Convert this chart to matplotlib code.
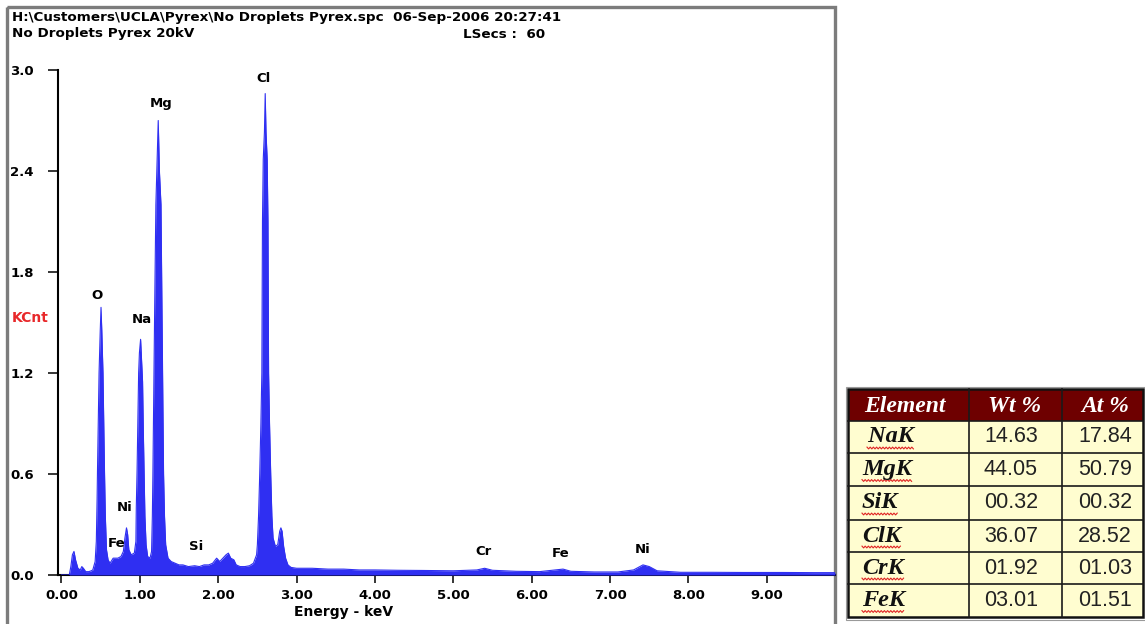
import numpy as np
import matplotlib
matplotlib.use("Agg")
import matplotlib.pyplot as plt
from matplotlib.patches import Rectangle

# EDS spectrum traced as (energy keV, counts KCnt) points
energy = [0.00, 0.10, 0.12, 0.14, 0.16, 0.18, 0.21, 0.24, 0.26, 0.28, 0.31, 0.35, 0.38,
          0.40, 0.43, 0.445, 0.455, 0.46, 0.47, 0.48, 0.495, 0.505, 0.515, 0.53, 0.54, 0.55,
          0.56, 0.575, 0.595, 0.62, 0.66, 0.69, 0.72, 0.76, 0.79, 0.81, 0.83, 0.845, 0.86,
          0.89, 0.93, 0.95, 0.955, 0.965, 0.975, 0.985, 0.995, 1.01, 1.02, 1.035, 1.045,
          1.055, 1.065, 1.08, 1.10, 1.13, 1.15, 1.16, 1.167, 1.18, 1.19, 1.205, 1.22, 1.235,
          1.25, 1.27, 1.28, 1.29, 1.303, 1.315, 1.33, 1.36, 1.40, 1.45, 1.50, 1.55, 1.62,
          1.70, 1.76, 1.82, 1.88, 1.93, 1.98, 2.02, 2.06, 2.10, 2.13, 2.16, 2.20, 2.23, 2.28,
          2.34, 2.40, 2.45, 2.49, 2.50, 2.515, 2.53, 2.545, 2.557, 2.565, 2.575, 2.59, 2.60,
          2.61, 2.625, 2.635, 2.643, 2.655, 2.67, 2.685, 2.70, 2.73, 2.76, 2.785, 2.80, 2.815,
          2.835, 2.86, 2.89, 2.93, 3.0, 3.2, 3.4, 3.6, 3.8, 4.0, 4.3, 4.6, 5.0, 5.3, 5.4, 5.5,
          5.8, 6.1, 6.3, 6.4, 6.5, 6.8, 7.1, 7.3, 7.42, 7.5, 7.6, 7.9, 8.3, 8.7, 9.2, 9.6, 9.87]
kcnt = [0.0, 0.0, 0.05, 0.12, 0.14, 0.09, 0.04, 0.03, 0.05, 0.04, 0.02, 0.02, 0.025,
        0.03, 0.08, 0.20, 0.45, 0.62, 0.90, 1.20, 1.45, 1.59, 1.45, 1.20, 0.90, 0.60,
        0.35, 0.15, 0.09, 0.07, 0.10, 0.10, 0.10, 0.11, 0.14, 0.22, 0.28, 0.24, 0.15,
        0.12, 0.13, 0.20, 0.40, 0.62, 0.90, 1.20, 1.32, 1.40, 1.30, 1.15, 0.85,
        0.60, 0.35, 0.18, 0.11, 0.10, 0.14, 0.35, 0.60, 1.20, 1.60, 2.20, 2.45, 2.70,
        2.40, 2.20, 1.70, 1.20, 0.60, 0.35, 0.18, 0.10, 0.08, 0.07, 0.06, 0.06, 0.05,
        0.055, 0.05, 0.06, 0.06, 0.07, 0.10, 0.08, 0.10, 0.12, 0.13, 0.10, 0.09, 0.06, 0.05,
        0.05, 0.055, 0.07, 0.12, 0.18, 0.35, 0.60, 0.90, 1.20, 2.10, 2.47, 2.63, 2.86,
        2.63, 2.47, 2.10, 1.20, 0.90, 0.60, 0.35, 0.22, 0.17, 0.18, 0.26, 0.28, 0.26,
        0.17, 0.10, 0.06, 0.045, 0.04, 0.04, 0.035, 0.035, 0.03, 0.03, 0.028, 0.027, 0.025, 0.03, 0.04, 0.028,
        0.022, 0.02, 0.03, 0.035, 0.022, 0.018, 0.018, 0.03, 0.06, 0.05, 0.025, 0.016, 0.016, 0.015, 0.015, 0.014, 0.014]

# peak labels and where they sit (keV, KCnt)
peak_names = ["O", "Na", "Mg", "Cl", "Ni", "Fe", "Si", "Cr", "Fe", "Ni"]
peak_x = [0.45, 1.03, 1.27, 2.58, 0.81, 0.70, 1.72, 5.38, 6.37, 7.42]
peak_y = [1.66, 1.52, 2.80, 2.95, 0.40, 0.19, 0.17, 0.14, 0.13, 0.15]

yticks = [0.0, 0.6, 1.2, 1.8, 2.4, 3.0]
xticks = [0, 1, 2, 3, 4, 5, 6, 7, 8, 9]

# quantification table
elements = [" NaK", "MgK", "SiK", "ClK", "CrK", "FeK"]
wt_pct = ["14.63", "44.05", "00.32", "36.07", "01.92", "03.01"]
at_pct = ["17.84", "50.79", "00.32", "28.52", "01.03", "01.51"]

W, H = 1145, 624
fig = plt.figure(figsize=(W / 100, H / 100), dpi=100)
fig.patch.set_facecolor("white")

# pixel-space layer for frame, header and table
bg = fig.add_axes([0, 0, 1, 1], zorder=0)
bg.set_xlim(0, W)
bg.set_ylim(H, 0)
bg.axis("off")

bg.add_patch(Rectangle((7, 7), 828, 640, fill=False, edgecolor="#7c7c7c", lw=2.4))

bold = "DejaVu Sans"
bg.text(12, 17, r"H:\Customers\UCLA\Pyrex\No Droplets Pyrex.spc  06-Sep-2006 20:27:41",
        fontsize=9.7, fontweight="bold", family=bold, va="center", ha="left")
bg.text(12, 34, "No Droplets Pyrex 20kV", fontsize=9.7, fontweight="bold", family=bold,
        va="center", ha="left")
bg.text(463, 34, "LSecs :  60", fontsize=9.7, fontweight="bold", family=bold,
        va="center", ha="left")
bg.text(12, 318, "KCnt", fontsize=10, fontweight="bold", family=bold, color="#e8282a",
        va="center", ha="left")
bg.text(344, 612, "Energy - keV", fontsize=10, fontweight="bold", family=bold,
        va="center", ha="center")

# spectrum axes
ax = fig.add_axes([58.3 / W, 1 - 575 / H, (835 - 58.3) / W, (575 - 70) / H], zorder=1)
ax.set_facecolor("none")
blue = "#2f2ff2"
ax.fill_between(energy, kcnt, 0, color=blue, lw=0, zorder=3)
ax.plot(energy, kcnt, color=blue, lw=0.8, zorder=3)
ax.set_xlim(-0.04, 9.87)
ax.set_ylim(0, 3.0)
for s in ["top", "right"]:
    ax.spines[s].set_visible(False)
ax.spines["left"].set_linewidth(1.5)
ax.spines["bottom"].set_linewidth(1.5)
ax.set_yticks(yticks)
ax.set_yticklabels([f"{v:.1f}" for v in yticks])
ax.set_xticks(xticks)
ax.set_xticklabels([f"{v:.2f}" for v in xticks])
ax.tick_params(axis="y", length=7.2, width=1.1, pad=10.5, labelsize=9.5)
ax.tick_params(axis="x", length=5.8, width=1.1, pad=4, labelsize=9.5)
for lab in ax.get_xticklabels() + ax.get_yticklabels():
    lab.set_fontweight("bold")
    lab.set_family(bold)

for name, px, py in zip(peak_names, peak_x, peak_y):
    ax.text(px, py, name, fontsize=9.5, fontweight="bold", family=bold,
            ha="center", va="center", zorder=4)

# table
col_x = [848, 969, 1062, 1143]
row_y = [389, 421, 453, 486, 520, 552, 584, 617]
bg.add_patch(Rectangle((col_x[0], row_y[0]), col_x[-1] - col_x[0], row_y[1] - row_y[0],
                       facecolor="#6e0000", edgecolor="none"))
bg.add_patch(Rectangle((col_x[0], row_y[1]), col_x[-1] - col_x[0], row_y[-1] - row_y[1],
                       facecolor="#fffdd0", edgecolor="none"))
for yy in row_y[1:-1]:
    bg.plot([col_x[0], col_x[-1]], [yy, yy], color="#1a1a1a", lw=1.2)
for xx in col_x[1:-1]:
    bg.plot([xx, xx], [row_y[0], row_y[-1]], color="#1a1a1a", lw=1.2)
bg.add_patch(Rectangle((col_x[0], row_y[0]), col_x[-1] - col_x[0], row_y[-1] - row_y[0],
                       fill=False, edgecolor="#111111", lw=1.8))
bg.add_patch(Rectangle((col_x[0] - 2.5, row_y[0] - 2.5), col_x[-1] - col_x[0] + 5,
                       row_y[-1] - row_y[0] + 5, fill=False, edgecolor="#9a9a9a", lw=0.8))

serif = "Liberation Serif"
sans = "Liberation Sans"
hy = (row_y[0] + row_y[1]) / 2
for txt, cx in zip(["Element", "Wt %", "At %"], [905, 1015, 1105]):
    bg.text(cx, hy + 1, txt, fontsize=17, fontweight="bold", fontstyle="italic",
            family=serif, color="white", ha="center", va="center")

name_texts = []
for i, (el, w, a) in enumerate(zip(elements, wt_pct, at_pct)):
    cy = (row_y[i + 1] + row_y[i + 2]) / 2
    t = bg.text(862, cy, el, fontsize=17.5, fontweight="bold", fontstyle="italic",
                family=serif, color="#111111", ha="left", va="center")
    name_texts.append((t, cy))
    bg.text(1011, cy, w, fontsize=15.5, family=sans, color="#222222", ha="center", va="center")
    bg.text(1105, cy, a, fontsize=15.5, family=sans, color="#222222", ha="center", va="center")

# red squiggle under the element names
fig.canvas.draw()
inv = bg.transData.inverted()
for t, cy in name_texts:
    bb = t.get_window_extent()
    (x0, _), (x1, _) = inv.transform([[bb.x0, bb.y0], [bb.x1, bb.y1]])
    if t.get_text().startswith(" "):
        x0 += 5
    xs = np.arange(x0, x1, 1.6)
    ys = cy + 11 + np.where(np.arange(len(xs)) % 2 == 0, -0.9, 0.9)
    bg.plot(xs, ys, color="#e02424", lw=0.8)

fig.savefig("out.png", dpi=100)
